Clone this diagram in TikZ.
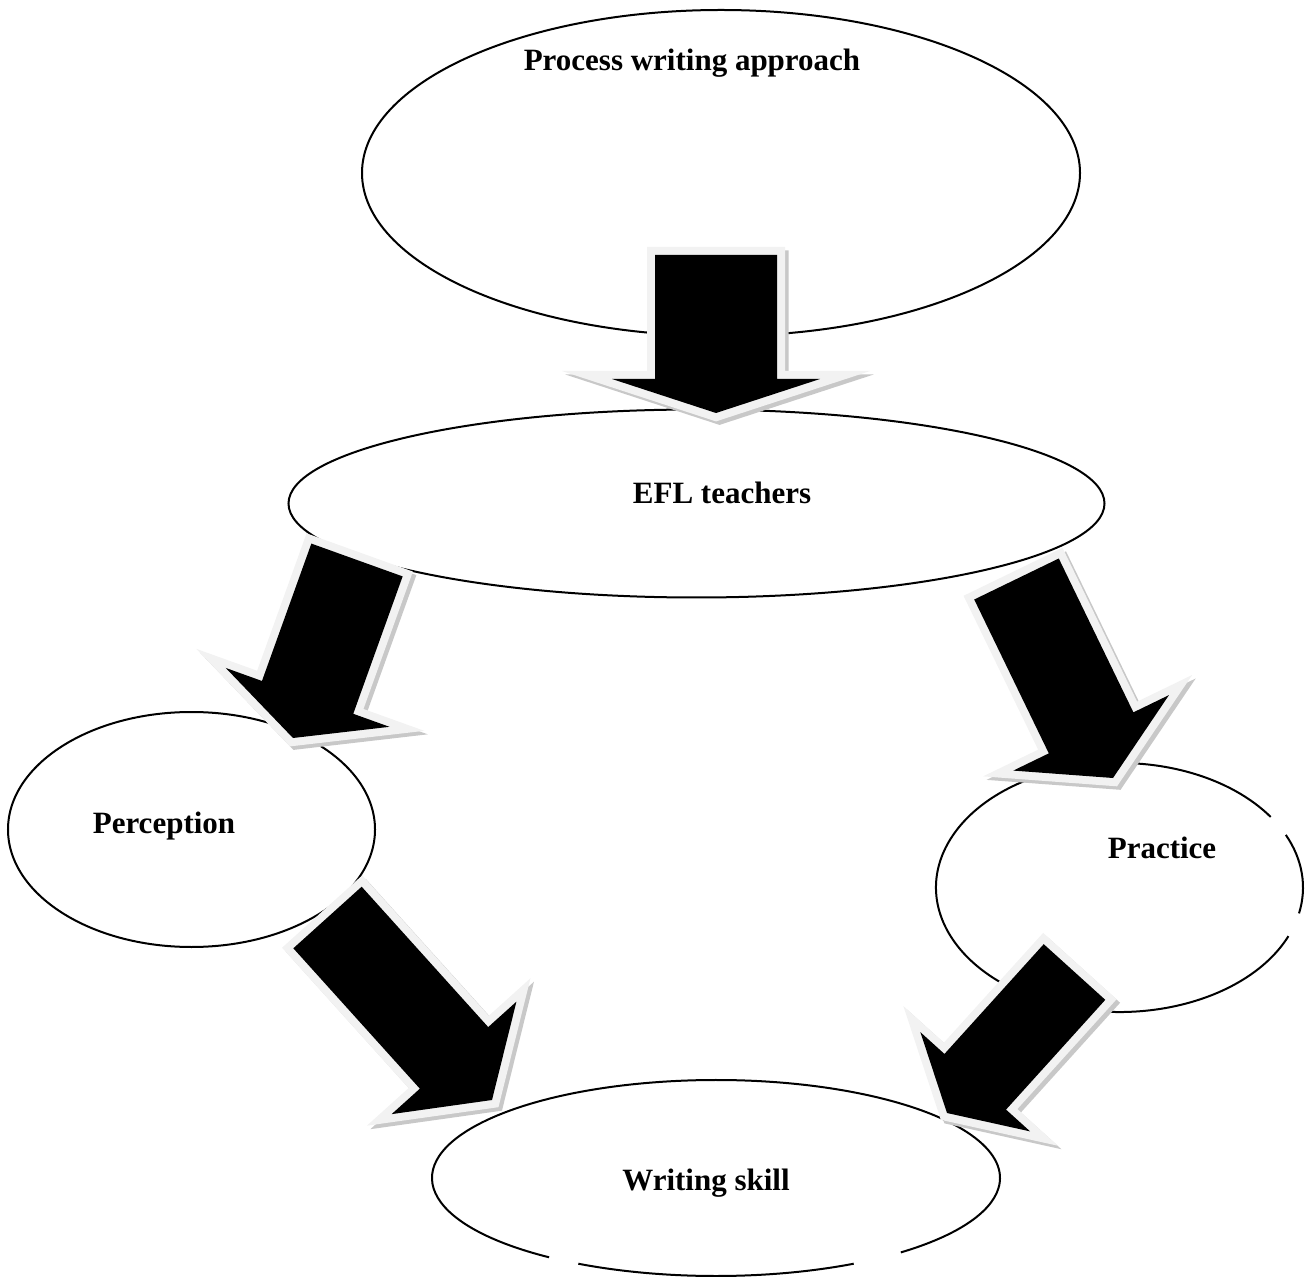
\documentclass[tikz,border=0pt]{standalone}
\usepackage{fontspec}
\setmainfont{Liberation Serif}
\usetikzlibrary{calc,shapes.geometric}
\definecolor{arrowborder}{HTML}{F2F2F2}
\definecolor{arrowshade}{HTML}{C8C8C8}
% #1 tail coordinate, #2 tip coordinate, #3 half shaft width, #4 shaft length, #5 half head width (all in pt)
\newcommand{\blockarrow}[5]{%
  \coordinate (ba-s) at ($(#1)!#4!(#2)$);
  \coordinate (ba-1) at ($(#1)!#3!90:(#2)$);
  \coordinate (ba-2) at ($(ba-s)!#3!90:(#2)$);
  \coordinate (ba-3) at ($(ba-s)!#5!90:(#2)$);
  \coordinate (ba-4) at ($(ba-s)!#5!-90:(#2)$);
  \coordinate (ba-5) at ($(ba-s)!#3!-90:(#2)$);
  \coordinate (ba-6) at ($(#1)!#3!-90:(#2)$);
  \filldraw[arrowshadestyle] (ba-1) -- (ba-2) -- (ba-3) -- (#2) -- (ba-4) -- (ba-5) -- (ba-6) -- cycle;
  \draw[arrowborderstyle] (ba-1) -- (ba-2) -- (ba-3) -- (#2) -- (ba-4) -- (ba-5) -- (ba-6) -- cycle;
  \fill[black] (ba-1) -- (ba-2) -- (ba-3) -- (#2) -- (ba-4) -- (ba-5) -- (ba-6) -- cycle;
}
\begin{document}
\begin{tikzpicture}[x=0.5pt,y=-0.5pt,
  oval/.style={ellipse, line width=1pt, inner sep=0pt},
  outline/.style={line width=1pt},
  lbl/.style={font=\fontsize{15.5pt}{18pt}\selectfont\bfseries, inner sep=0pt},
  arrowshadestyle/.style={draw=arrowshade, fill=arrowshade, line width=8pt, line join=miter,
    transform canvas={shift={(1.75pt,-1.75pt)}}},
  arrowborderstyle/.style={draw=arrowborder, line width=8pt, line join=miter}]
\useasboundingbox (0,0) rectangle (1311,1277);
% ovals
\node[oval, draw, minimum width=359pt, minimum height=163pt] (top) at (721,173) {};
\node[oval, draw, minimum width=408pt, minimum height=94pt] (efl) at (696.5,503.5) {};
\node[oval, draw, minimum width=183.5pt, minimum height=117.5pt] (perc) at (191.5,829.5) {};
\node[oval, minimum width=183.5pt, minimum height=124.5pt] (prac) at (1119.5,887.5) {};
\node[oval, minimum width=284pt, minimum height=98pt] (skill) at (716,1178) {};
% ovals with gaps in their outline
\draw[outline] ($(prac.center)+(-25:183.5 and 124.5)$) arc[start angle=-25, end angle=12, x radius=183.5, y radius=124.5];
\draw[outline] ($(prac.center)+(23:183.5 and 124.5)$) arc[start angle=23, end angle=325.5, x radius=183.5, y radius=124.5];
\draw[outline] ($(skill.center)+(61:284 and 98)$) arc[start angle=61, end angle=119, x radius=284, y radius=98];
\draw[outline] ($(skill.center)+(126:284 and 98)$) arc[start angle=126, end angle=409.4, x radius=284, y radius=98];
% labels
\node[lbl] (ttop) at (692,63) {Process writing approach};
\node[lbl] (tefl) at (722,493) {EFL teachers};
\node[lbl] (tperc) at (164,826) {Perception};
\node[lbl] (tprac) at (1162,848) {Practice};
\node[lbl] (tskill) at (706,1183) {Writing skill};
% block arrows
\coordinate (a1t) at (716,255);   \coordinate (a1p) at (716,413);
\coordinate (a2t) at (357,560);   \coordinate (a2p) at (293,738);
\coordinate (a3t) at (1016.5,579); \coordinate (a3p) at (1113,778);
\coordinate (a4t) at (327.5,917.5); \coordinate (a4p) at (492,1100);
\coordinate (a5t) at (1074.5,972); \coordinate (a5p) at (947,1113);
\blockarrow{a1t}{a1p}{30.5pt}{62pt}{52pt}
\blockarrow{a2t}{a2p}{24.25pt}{73pt}{43.5pt}
\blockarrow{a3t}{a3p}{23.5pt}{85.5pt}{43.25pt}
\blockarrow{a4t}{a4p}{23pt}{94.5pt}{42pt}
\blockarrow{a5t}{a5p}{20.75pt}{74pt}{37pt}
\end{tikzpicture}
\end{document}
